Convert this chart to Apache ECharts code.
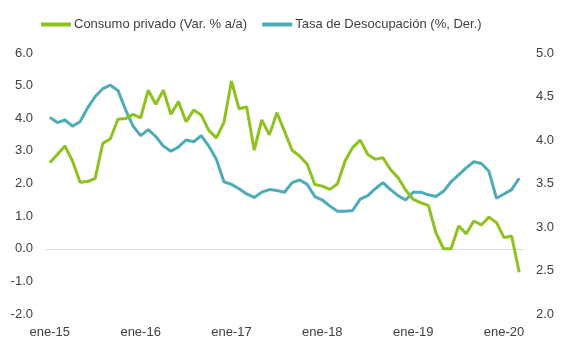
<!DOCTYPE html>
<html>
<head>
<meta charset="utf-8">
<script src="https://cdn.jsdelivr.net/npm/echarts@6/dist/echarts.min.js"></script>
<style>
html,body{margin:0;padding:0;background:#fff;}
#chart{width:566px;height:350px;}
</style>
</head>
<body>
<div id="chart"></div>
<script>
const monthNames = ['ene','feb','mar','abr','may','jun','jul','ago','sep','oct','nov','dic'];
const years = ['15','16','17','18','19','20'];
const lastMonthCount2020 = 3;

const categories = [];
years.forEach(function (yy, yi) {
  const n = (yi === years.length - 1) ? lastMonthCount2020 : 12;
  for (let m = 0; m < n; m++) categories.push(monthNames[m] + '-' + yy);
});

const consumoName = 'Consumo privado (Var. % a/a)';
const desocupName = 'Tasa de Desocupación (%, Der.)';

const consumo = [
  2.64, 2.89, 3.15, 2.69, 2.04, 2.06, 2.16, 3.23, 3.37, 3.97, 3.99, 4.12,
  4.01, 4.86, 4.43, 4.86, 4.12, 4.51, 3.89, 4.25, 4.10, 3.63, 3.40, 3.87,
  5.14, 4.29, 4.35, 3.02, 3.95, 3.49, 4.17, 3.60, 3.02, 2.84, 2.59, 1.97,
  1.92, 1.82, 1.99, 2.69, 3.10, 3.33, 2.89, 2.74, 2.79, 2.43, 2.18, 1.80,
  1.51, 1.41, 1.33, 0.49, 0.00, 0.00, 0.70, 0.46, 0.85, 0.73, 0.97, 0.80,
  0.34, 0.39, -0.72
];

const desocupacion = [
  4.26, 4.20, 4.23, 4.16, 4.21, 4.37, 4.50, 4.59, 4.63, 4.57, 4.35, 4.16,
  4.05, 4.12, 4.04, 3.93, 3.87, 3.92, 4.00, 3.98, 4.05, 3.93, 3.78, 3.52,
  3.49, 3.44, 3.38, 3.34, 3.40, 3.43, 3.42, 3.40, 3.51, 3.54, 3.49, 3.35,
  3.31, 3.24, 3.18, 3.18, 3.19, 3.32, 3.36, 3.44, 3.51, 3.43, 3.36, 3.31,
  3.40, 3.40, 3.37, 3.35, 3.41, 3.52, 3.60, 3.68, 3.75, 3.73, 3.64, 3.33,
  3.38, 3.43, 3.56
];

const leftTicks = { min: -2, max: 6, interval: 1 };
const rightTicks = { min: 2, max: 5, interval: 0.5 };

const textColor = '#404040';
const fontFamily = '"Liberation Sans", Arial, sans-serif';
const greenColor = '#8DC21F';
const blueColor = '#4EACB8';

const chart = echarts.init(document.getElementById('chart'), null, { renderer: 'canvas' });
chart.setOption({
  animation: false,
  backgroundColor: '#ffffff',
  textStyle: { fontFamily: fontFamily },
  legend: {
    left: 36,
    top: 13,
    itemWidth: 30,
    itemHeight: 4,
    itemGap: 15,
    icon: 'rect',
    textStyle: { color: textColor, fontSize: 13, fontFamily: fontFamily, padding: [0, 0, 0, -2] },
    data: [consumoName, desocupName]
  },
  grid: { left: 46, right: 43, top: 53, bottom: 36, containLabel: false },
  xAxis: {
    type: 'category',
    data: categories,
    boundaryGap: true,
    axisLine: { show: false },
    axisTick: { show: false },
    splitLine: { show: false },
    axisLabel: {
      interval: 11,
      color: textColor,
      fontSize: 13,
      fontFamily: fontFamily,
      margin: 12
    }
  },
  yAxis: [
    {
      type: 'value',
      min: leftTicks.min, max: leftTicks.max, interval: leftTicks.interval,
      axisLine: { show: false }, axisTick: { show: false }, splitLine: { show: false },
      axisLabel: {
        color: textColor, fontSize: 13, fontFamily: fontFamily, margin: 13,
        formatter: function (v) { return v.toFixed(1); }
      }
    },
    {
      type: 'value',
      min: rightTicks.min, max: rightTicks.max, interval: rightTicks.interval,
      axisLine: { show: false }, axisTick: { show: false }, splitLine: { show: false },
      axisLabel: {
        color: textColor, fontSize: 13, fontFamily: fontFamily, margin: 13,
        formatter: function (v) { return v.toFixed(1); }
      }
    }
  ],
  series: [
    {
      name: consumoName,
      type: 'line',
      yAxisIndex: 0,
      data: consumo,
      showSymbol: false,
      symbol: 'none',
      z: 3,
      itemStyle: { color: greenColor },
      lineStyle: { color: greenColor, width: 3 },
      markLine: {
        silent: true,
        symbol: ['none', 'none'],
        label: { show: false },
        lineStyle: { color: '#D9D9D9', width: 1, type: 'solid' },
        data: [{ yAxis: 0 }],
        z: 1
      }
    },
    {
      name: desocupName,
      type: 'line',
      yAxisIndex: 1,
      data: desocupacion,
      showSymbol: false,
      symbol: 'none',
      z: 2,
      itemStyle: { color: blueColor },
      lineStyle: { color: blueColor, width: 3 }
    }
  ]
});
</script>
</body>
</html>
